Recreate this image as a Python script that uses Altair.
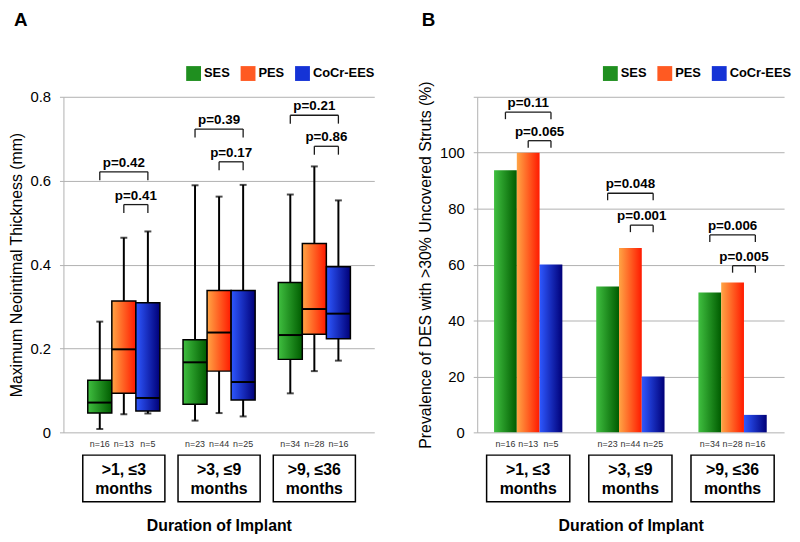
import altair as alt
import pandas as pd

FONT = "Liberation Sans"

# ---------------- data ----------------
series = ["SES", "PES", "CoCr-EES"]
group_line1 = [">1, \u22643", ">3, \u22649", ">9, \u226436"]
group_line2 = ["months", "months", "months"]
n_counts = [[16, 13, 5], [23, 44, 25], [34, 28, 16]]

# Panel A: maximum neointimal thickness (mm), box-plot statistics
whisker_low = [[0.008, 0.043, 0.045], [0.028, 0.046, 0.038], [0.093, 0.146, 0.171]]
q1 = [[0.046, 0.093, 0.051], [0.067, 0.146, 0.077], [0.174, 0.234, 0.223]]
median = [[0.071, 0.198, 0.082], [0.167, 0.238, 0.120], [0.232, 0.294, 0.283]]
q3 = [[0.124, 0.313, 0.309], [0.221, 0.338, 0.338], [0.357, 0.450, 0.395]]
whisker_high = [[0.264, 0.464, 0.479], [0.589, 0.562, 0.590], [0.567, 0.634, 0.553]]

# Panel B: prevalence of DES with >30% uncovered struts (%)
prevalence = [[93.75, 100.0, 60.0], [52.2, 65.9, 20.0], [50.0, 53.6, 6.25]]

# significance brackets (group, from series, to series)
br_group = [0, 0, 1, 1, 2, 2]
br_from = [0, 1, 0, 1, 0, 1]
br_to = [2, 2, 2, 2, 2, 2]
a_br_top = [0.621, 0.543, 0.723, 0.645, 0.756, 0.682]
a_br_label = ["p=0.42", "p=0.41", "p=0.39", "p=0.17", "p=0.21", "p=0.86"]
b_br_top = [114.5, 104.3, 85.5, 74.1, 70.6, 59.6]
b_br_label = ["p=0.11", "p=0.065", "p=0.048", "p=0.001", "p=0.006", "p=0.005"]

grad_colors = {
    "SES": ("#40bf40", "#005c00"),
    "PES": ("#ffa545", "#ff1a00"),
    "CoCr-EES": ("#2e58ff", "#000078"),
}
legend_colors = ["#1f8f1f", "#ff5a22", "#1533d6"]
GRID = "#b0b0b0"


def grad(s):
    c0, c1 = grad_colors[s]
    return alt.Gradient(
        gradient="linear", x1=0, x2=1, y1=0, y2=0,
        stops=[alt.GradientStop(offset=0, color=c0), alt.GradientStop(offset=1, color=c1)],
    )


box_df = pd.DataFrame([
    dict(g=g, s=s, series=series[s], n="n=%d" % n_counts[g][s],
         low=whisker_low[g][s], q1=q1[g][s], med=median[g][s],
         q3=q3[g][s], high=whisker_high[g][s])
    for g in range(3) for s in range(3)
])
bar_df = pd.DataFrame([
    dict(g=g, s=s, series=series[s], n="n=%d" % n_counts[g][s], val=prevalence[g][s])
    for g in range(3) for s in range(3)
])
group_df = pd.DataFrame({"g": [0, 1, 2], "line1": group_line1, "line2": group_line2})
brA_df = pd.DataFrame({"g": br_group, "a": br_from, "b": br_to, "top": a_br_top, "label": a_br_label})
brB_df = pd.DataFrame({"g": br_group, "a": br_from, "b": br_to, "top": b_br_top, "label": b_br_label})


def legend(lx):
    return alt.Legend(
        orient="none", legendX=lx, legendY=-31, direction="horizontal", title=None,
        symbolType="square", symbolSize=225, symbolStrokeWidth=0, symbolOpacity=1,
        labelFont=FONT, labelFontSize=13, labelFontWeight="bold", labelColor="black",
        labelOffset=3, columnPadding=10, padding=0,
    )


def yaxis(values, title, expr, fmt):
    return alt.Axis(
        values=values, title=title, labelExpr=expr, format=fmt,
        grid=True, gridColor=GRID, domainColor=GRID, tickColor=GRID, tickSize=4,
        labelFont=FONT, labelFontSize=15, labelColor="black", labelPadding=9,
        titleFont=FONT, titleFontSize=16, titleFontWeight="normal", titleColor="black",
        titlePadding=6,
    )


def brackets(df, xs, ys, yax, off, drop):
    base = alt.Chart(df).transform_calculate(
        x1=f"datum.g + (datum.a - 1) * {off}",
        x2=f"datum.g + (datum.b - 1) * {off}",
        xm=f"datum.g + (datum.a + datum.b - 2) * {off} / 2",
        bot=f"datum.top - {drop}",
    )
    X = lambda f: alt.X(f, type="quantitative", scale=xs, axis=None)
    Y = lambda f: alt.Y(f, type="quantitative", scale=ys, axis=yax)
    h = base.mark_rule(color="#1a1a1a", strokeWidth=1.3).encode(x=X("x1"), x2="x2:Q", y=Y("top"))
    v1 = base.mark_rule(color="#1a1a1a", strokeWidth=1.3).encode(x=X("x1"), y=Y("top"), y2="bot:Q")
    v2 = base.mark_rule(color="#1a1a1a", strokeWidth=1.3).encode(x=X("x2"), y=Y("top"), y2="bot:Q")
    t = base.mark_text(font=FONT, fontSize=13.5, fontWeight="bold", dy=-9, baseline="middle",
                       color="black").encode(x=X("xm"), y=Y("top"), text="label:N")
    return [h, v1, v2, t]


def strip(df_n, xs, off, half_box, width):
    xax = alt.Axis(labels=False, ticks=False, domain=False, grid=False, tickSize=0,
                   title="Duration of Implant", titleFont=FONT, titleFontSize=16,
                   titleFontWeight="bold", titleColor="black", titlePadding=11)
    X = lambda f: alt.X(f, type="quantitative", scale=xs, axis=xax)
    gb = alt.Chart(group_df).transform_calculate(
        bl=f"datum.g - {half_box}", br=f"datum.g + {half_box}")
    rect = gb.mark_rect(fill="white", stroke="black", strokeWidth=1.5).encode(
        x=X("bl"), x2="br:Q", y=alt.value(23), y2=alt.value(70))
    t1 = gb.mark_text(font=FONT, fontSize=16, fontWeight="bold", color="black", baseline="middle").encode(
        x=X("g"), y=alt.value(38), text="line1:N")
    t2 = gb.mark_text(font=FONT, fontSize=16, fontWeight="bold", color="black", baseline="middle").encode(
        x=X("g"), y=alt.value(57), text="line2:N")
    nt = alt.Chart(df_n).transform_calculate(pos=f"datum.g + (datum.s - 1) * {off}").mark_text(
        font=FONT, fontSize=9, color="#333333", baseline="middle").encode(
        x=X("pos"), y=alt.value(12), text="n:N")
    return alt.layer(rect, t1, t2, nt).properties(width=width, height=75)


def title(letter, dx):
    return alt.TitleParams(letter, anchor="start", font=FONT, fontSize=19, fontWeight="bold",
                           color="black", dx=dx, offset=37)


# ---------------- Panel A ----------------
A_OFF, A_HALF, A_W = 0.2525, 0.126, 314
xA = alt.Scale(domain=[-0.634, 2.629], nice=False, zero=False)
yA = alt.Scale(domain=[0, 0.8], nice=False)
yaxA = yaxis([0, 0.2, 0.4, 0.6, 0.8], "Maximum Neointimal Thickness (mm)", "datum.label", ".1~f")
XA = lambda f: alt.X(f, type="quantitative", scale=xA, axis=None)
YA = lambda f: alt.Y(f, type="quantitative", scale=yA, axis=yaxA)

baseA = alt.Chart(box_df).transform_calculate(
    pos=f"datum.g + (datum.s - 1) * {A_OFF}",
    left=f"datum.g + (datum.s - 1) * {A_OFF} - {A_HALF}",
    right=f"datum.g + (datum.s - 1) * {A_OFF} + {A_HALF}",
)
whisk = baseA.mark_rule(color="black", strokeWidth=2).encode(x=XA("pos"), y=YA("low"), y2="high:Q")
cap_lo = baseA.mark_tick(orient="horizontal", color="black", size=7, thickness=2).encode(x=XA("pos"), y=YA("low"))
cap_hi = baseA.mark_tick(orient="horizontal", color="black", size=7, thickness=2).encode(x=XA("pos"), y=YA("high"))
boxesA = [
    baseA.transform_filter(f"datum.s == {i}").mark_bar(fill=grad(s), stroke="black", strokeWidth=1.5).encode(
        x=XA("left"), x2="right:Q", y=YA("q1"), y2="q3:Q")
    for i, s in enumerate(series)
]
medA = baseA.mark_rule(color="black", strokeWidth=2).encode(x=XA("left"), x2="right:Q", y=YA("med"))
legA = baseA.mark_square(opacity=0, size=10).encode(
    x=XA("pos"), y=YA("med"),
    color=alt.Color("series:N", scale=alt.Scale(domain=series, range=legend_colors), legend=legend(124)))

mainA = alt.layer(whisk, cap_lo, cap_hi, *boxesA, medA,
                  *brackets(brA_df, xA, yA, yaxA, A_OFF, 0.02), legA).properties(
    width=A_W, height=339, title=title("A", 6))
stripA = strip(box_df, xA, A_OFF, 0.431, A_W)

# ---------------- Panel B ----------------
B_OFF, B_HALF, B_W = 0.2228, 0.1114, 310
xB = alt.Scale(domain=[-0.499, 2.504], nice=False, zero=False)
yB = alt.Scale(domain=[0, 120], nice=False)
yaxB = yaxis([0, 20, 40, 60, 80, 100, 120], "Prevalence of DES with >30% Uncovered Struts (%)",
             "datum.value == 120 ? '' : datum.label", "d")
XB = lambda f: alt.X(f, type="quantitative", scale=xB, axis=None)
YB = lambda f: alt.Y(f, type="quantitative", scale=yB, axis=yaxB)

baseB = alt.Chart(bar_df).transform_calculate(
    pos=f"datum.g + (datum.s - 1) * {B_OFF}",
    left=f"datum.g + (datum.s - 1) * {B_OFF} - {B_HALF}",
    right=f"datum.g + (datum.s - 1) * {B_OFF} + {B_HALF}",
)
barsB = [
    baseB.transform_filter(f"datum.s == {i}").mark_bar(fill=grad(s)).encode(
        x=XB("left"), x2="right:Q", y=YB("val"), y2=alt.datum(0))
    for i, s in enumerate(series)
]
legB = baseB.mark_square(opacity=0, size=10).encode(
    x=XB("pos"), y=YB("val"),
    color=alt.Color("series:N", scale=alt.Scale(domain=series, range=legend_colors), legend=legend(127)))

mainB = alt.layer(*barsB, *brackets(brB_df, xB, yB, yaxB, B_OFF, 2.5), legB).properties(
    width=B_W, height=339, title=title("B", 4))
stripB = strip(bar_df, xB, B_OFF, 0.407, B_W)

chart = alt.concat(mainA, mainB, stripA, stripB, columns=2,
                   spacing={"row": 0, "column": 104}, bounds="flush").resolve_scale(
    x="independent", y="independent", color="independent").resolve_legend(color="independent").properties(
    padding={"left": 0, "top": 0, "right": 0, "bottom": 0}
).configure_view(strokeWidth=0)

chart.save("out.html", embed_options={"renderer": "svg", "actions": False})
